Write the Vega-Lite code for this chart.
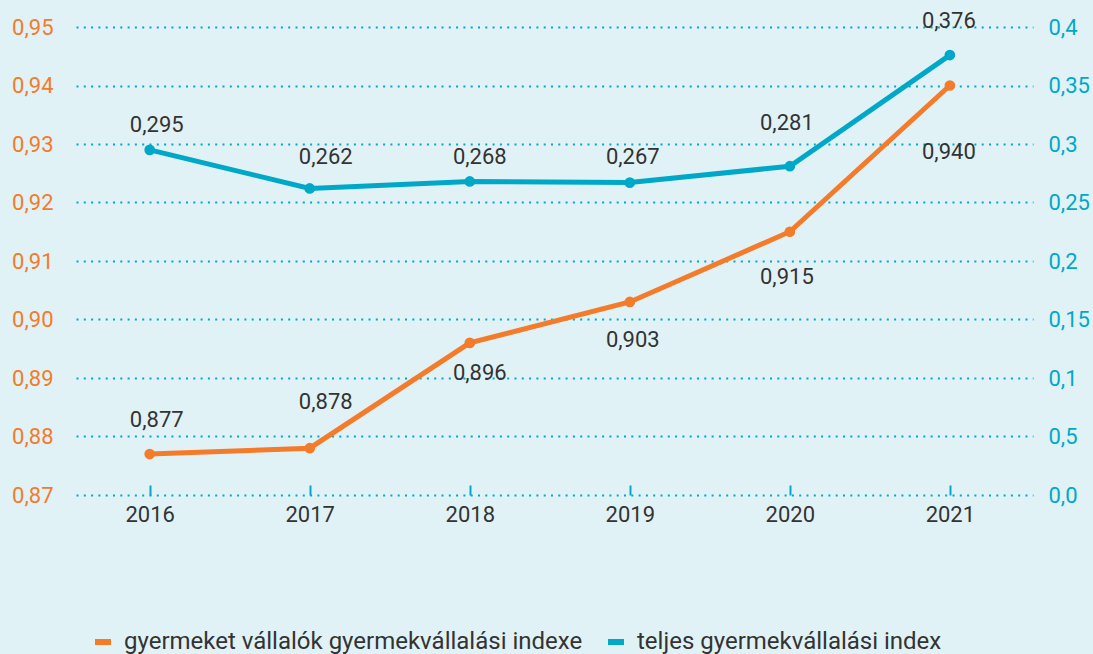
{
  "$schema": "https://vega.github.io/schema/vega-lite/v6.json",
  "width": 957,
  "height": 468,
  "autosize": {"type": "none"},
  "padding": {"left": 76, "top": 27, "right": 60, "bottom": 159},
  "background": "#e1f2f7",
  "config": {
    "view": {"stroke": null},
    "font": "Roboto",
    "locale": {"number": {"decimal": ",", "thousands": " ", "grouping": [3], "currency": ["", ""]}},
    "axis": {"title": null, "domain": false, "labelFont": "Roboto", "labelFontSize": 21}
  },
  "data": {
    "values": [
      {"year": "2016", "series": "gyermeket vállalók gyermekvállalási indexe", "value": 0.877},
      {"year": "2017", "series": "gyermeket vállalók gyermekvállalási indexe", "value": 0.878},
      {"year": "2018", "series": "gyermeket vállalók gyermekvállalási indexe", "value": 0.896},
      {"year": "2019", "series": "gyermeket vállalók gyermekvállalási indexe", "value": 0.903},
      {"year": "2020", "series": "gyermeket vállalók gyermekvállalási indexe", "value": 0.915},
      {"year": "2021", "series": "gyermeket vállalók gyermekvállalási indexe", "value": 0.940},
      {"year": "2016", "series": "teljes gyermekvállalási index", "value": 0.295},
      {"year": "2017", "series": "teljes gyermekvállalási index", "value": 0.262},
      {"year": "2018", "series": "teljes gyermekvállalási index", "value": 0.268},
      {"year": "2019", "series": "teljes gyermekvállalási index", "value": 0.267},
      {"year": "2020", "series": "teljes gyermekvállalási index", "value": 0.281},
      {"year": "2021", "series": "teljes gyermekvállalási index", "value": 0.376}
    ]
  },
  "encoding": {
    "x": {
      "field": "year",
      "type": "ordinal",
      "scale": {"type": "point", "padding": 0.49, "align": 0.47},
      "axis": {
        "orient": "bottom",
        "offset": -10,
        "tickSize": 10,
        "tickWidth": 2,
        "tickColor": "#00a8c8",
        "grid": false,
        "labelAngle": 0,
        "labelColor": "#333333",
        "labelFontSize": 22,
        "labelPadding": 9
      }
    }
  },
  "layer": [
    {
      "transform": [{"filter": "datum.series === 'gyermeket vállalók gyermekvállalási indexe'"}],
      "encoding": {
        "y": {
          "field": "value",
          "type": "quantitative",
          "scale": {"domain": [0.87, 0.95], "zero": false, "nice": false},
          "axis": {
            "orient": "left",
            "values": [0.87, 0.88, 0.89, 0.9, 0.91, 0.92, 0.93, 0.94, 0.95],
            "format": ".2f",
            "ticks": false,
            "grid": true,
            "gridColor": "#00a8c8",
            "gridDash": [2, 5.3],
            "gridWidth": 2,
            "labelColor": "#f47b2a",
            "labelFontSize": 22,
            "labelPadding": 23
          }
        }
      },
      "layer": [
        {
          "mark": {"type": "line", "strokeWidth": 5},
          "encoding": {
            "color": {
              "field": "series",
              "type": "nominal",
              "scale": {
                "domain": ["gyermeket vállalók gyermekvállalási indexe", "teljes gyermekvállalási index"],
                "range": ["#f47b2a", "#00a8c8"]
              },
              "legend": {
                "orient": "none",
                "legendX": 15,
                "legendY": 603,
                "direction": "horizontal",
                "title": null,
                "padding": 0,
                "symbolType": "stroke",
                "symbolStrokeWidth": 6,
                "symbolSize": 256,
                "labelFontSize": 24,
                "labelFont": "Roboto",
                "labelColor": "#333333",
                "labelOffset": 9,
                "columnPadding": 13,
                "labelLimit": 1000
              }
            }
          }
        },
        {
          "mark": {"type": "circle", "size": 115, "opacity": 1, "color": "#f47b2a"}
        },
        {
          "mark": {
            "type": "text",
            "fontSize": 22,
            "color": "#333333",
            "align": "center",
            "baseline": "middle",
            "dx": {"expr": "datum.year=='2016'?7:datum.year=='2017'?16:datum.year=='2018'?10:datum.year=='2019'?3:datum.year=='2020'?-3:-1"},
            "dy": {"expr": "datum.year=='2016'?-34:datum.year=='2017'?-46:datum.year=='2018'?30:datum.year=='2019'?38:datum.year=='2020'?45:66"}
          },
          "encoding": {"text": {"field": "value", "type": "quantitative", "format": ".3f"}}
        }
      ]
    },
    {
      "transform": [{"filter": "datum.series === 'teljes gyermekvállalási index'"}],
      "encoding": {
        "y": {
          "field": "value",
          "type": "quantitative",
          "scale": {"domain": [0, 0.4], "zero": false, "nice": false},
          "axis": {
            "orient": "right",
            "values": [0, 0.05, 0.1, 0.15, 0.2, 0.25, 0.3, 0.35, 0.4],
            "labelExpr": "datum.value < 0.001 ? '0,0' : abs(datum.value - 0.05) < 0.001 ? '0,5' : replace(format(datum.value, '.2~f'), '.', ',')",
            "ticks": false,
            "grid": false,
            "labelColor": "#00a8c8",
            "labelFontSize": 22,
            "labelPadding": 15
          }
        }
      },
      "layer": [
        {
          "mark": {"type": "line", "strokeWidth": 5},
          "encoding": {
            "color": {"field": "series", "type": "nominal"}
          }
        },
        {
          "mark": {"type": "circle", "size": 115, "opacity": 1, "color": "#00a8c8"}
        },
        {
          "mark": {
            "type": "text",
            "fontSize": 22,
            "color": "#333333",
            "align": "center",
            "baseline": "middle",
            "dx": {"expr": "datum.year=='2016'?7:datum.year=='2017'?16:datum.year=='2018'?10:datum.year=='2019'?3:datum.year=='2020'?-3:-1"},
            "dy": {"expr": "datum.year=='2016'?-25:datum.year=='2017'?-31:datum.year=='2018'?-24:datum.year=='2019'?-26:datum.year=='2020'?-43:-34"}
          },
          "encoding": {"text": {"field": "value", "type": "quantitative", "format": ".3f"}}
        }
      ]
    }
  ],
  "resolve": {"scale": {"y": "independent"}}
}
